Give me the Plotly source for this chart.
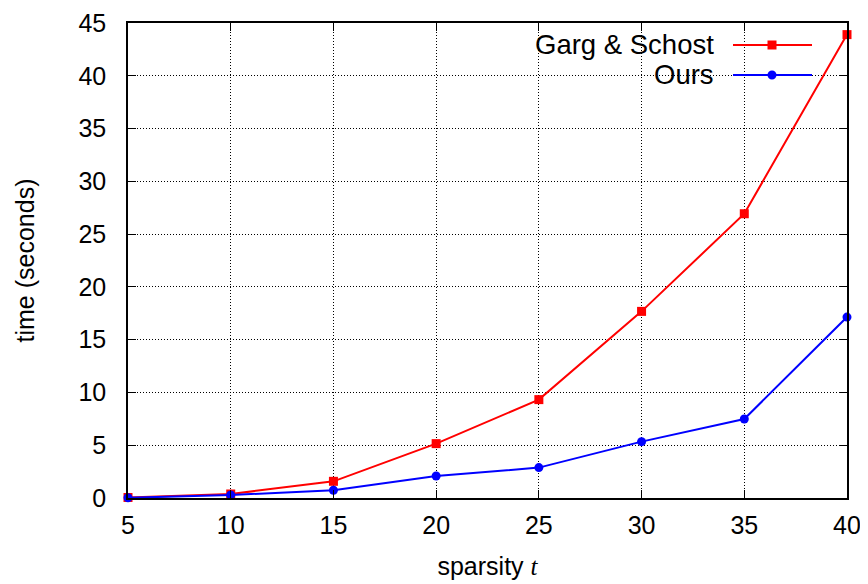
import plotly.graph_objects as go

sparsity = [5, 10, 15, 20, 25, 30, 35, 40]
garg_schost = [0.05, 0.38, 1.58, 5.15, 9.32, 17.68, 26.93, 43.9]
ours = [0.02, 0.28, 0.73, 2.08, 2.88, 5.34, 7.48, 17.14]
series_names = ["Garg & Schost", "Ours"]
x_ticks = [5, 10, 15, 20, 25, 30, 35, 40]
y_ticks = [0, 5, 10, 15, 20, 25, 30, 35, 40, 45]

FONT = "Liberation Sans, Arial, Helvetica, sans-serif"
W, H = 868, 584
OFF = 8  # page body margin
# target plot area in screen pixels
PX0, PX1, PY0, PY1 = 128, 847, 23, 498
L, T = PX0 - OFF, PY0 - OFF
R, B = W - (PX1 - OFF), H - (PY1 - OFF)

fig = go.Figure()
fig.add_trace(go.Scatter(x=sparsity, y=garg_schost, mode="lines+markers",
                         name=series_names[0], cliponaxis=False,
                         line=dict(color="#ff0000", width=2),
                         marker=dict(symbol="square", size=9, color="#ff0000")))
fig.add_trace(go.Scatter(x=sparsity, y=ours, mode="lines+markers",
                         name=series_names[1], cliponaxis=False,
                         line=dict(color="#0000ff", width=2),
                         marker=dict(symbol="circle", size=9, color="#0000ff")))

axis_common = dict(showline=True, linecolor="black", linewidth=1.5, mirror="ticks",
                   ticks="inside", ticklen=8, tickwidth=1.2, tickcolor="black",
                   showgrid=True, gridcolor="black", gridwidth=1, griddash="1px,2px",
                   zeroline=False, automargin=False,
                   tickfont=dict(family=FONT, size=25, color="black"))

fig.update_xaxes(range=[5, 40], tickvals=x_ticks, ticktext=[str(v) for v in x_ticks],
                 ticklabelstandoff=4,
                 title=dict(text="sparsity <span style=\"font-family:'Liberation Serif', serif\"><i>t</i></span>",
                            font=dict(family=FONT, size=25, color="black"), standoff=20),
                 **axis_common)
fig.update_yaxes(range=[0, 45], tickvals=y_ticks, ticktext=[str(v) for v in y_ticks],
                 ticklabelstandoff=15,
                 title=dict(text="time (seconds)", font=dict(family=FONT, size=25, color="black"),
                            standoff=37),
                 **axis_common)

def px_to_paper_x(px):
    return (px - PX0) / (PX1 - PX0)

def px_to_paper_y(py):
    return (PY1 - py) / (PY1 - PY0)

# key background (hides grid behind the key like gnuplot)
fig.add_shape(type="rect", xref="paper", yref="paper", layer="between",
              x0=px_to_paper_x(470), x1=px_to_paper_x(826),
              y0=px_to_paper_y(88), y1=1, fillcolor="white", line=dict(width=0))

# manual key: text right-aligned, then sample line with marker
key_rows = [(45, "#ff0000", "square"), (75, "#0000ff", "circle")]
for name, (py, col, sym) in zip(series_names, key_rows):
    fig.add_annotation(xref="paper", yref="paper", x=px_to_paper_x(716), y=px_to_paper_y(py),
                       xanchor="right", yanchor="middle", showarrow=False, text=name,
                       font=dict(family=FONT, size=27.5, color="black"))
    fig.add_shape(type="line", xref="paper", yref="paper", layer="above",
                  x0=px_to_paper_x(733), x1=px_to_paper_x(812),
                  y0=px_to_paper_y(py), y1=px_to_paper_y(py), line=dict(color=col, width=2))
    cx, cy, r = 772, py, 4.5
    fig.add_shape(type="rect" if sym == "square" else "circle", xref="paper", yref="paper",
                  layer="above",
                  x0=px_to_paper_x(cx - r), x1=px_to_paper_x(cx + r),
                  y0=px_to_paper_y(cy + r), y1=px_to_paper_y(cy - r),
                  fillcolor=col, line=dict(width=0))

fig.update_layout(width=W, height=H, margin=dict(l=L, r=R, t=T, b=B),
                  paper_bgcolor="white", plot_bgcolor="white", showlegend=False,
                  font=dict(family=FONT, color="black"))

fig.write_html("out.html")
